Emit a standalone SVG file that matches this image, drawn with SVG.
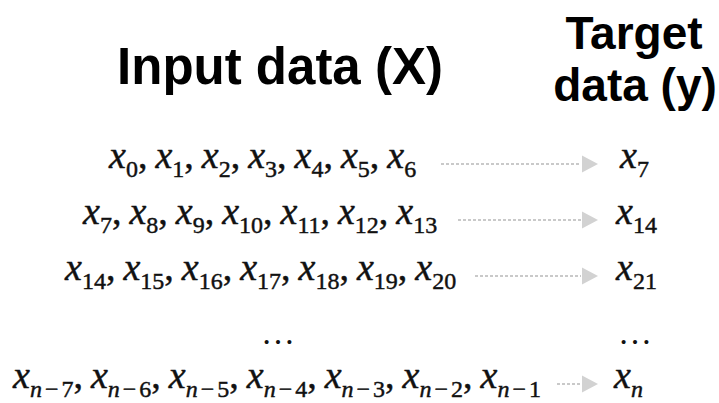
<svg xmlns="http://www.w3.org/2000/svg" width="719" height="403" viewBox="0 0 719 403">
<style>
.h{font-family:"Liberation Sans",Arial,sans-serif;font-weight:bold;fill:#000}
.eq{font-family:"Liberation Serif","Times New Roman",serif;font-size:38px;fill:#111;stroke:#111;stroke-width:0.45}
.i{font-style:italic}
.s{font-size:24px}
.dl{stroke:#c9c9c9;stroke-width:2;stroke-dasharray:3 2;fill:none}
.hd{fill:#d2d2d2}
.el{font-family:"Liberation Serif","Times New Roman",serif;font-size:34px;fill:#111}
</style>
<rect width="719" height="403" fill="#fff"/>
<g id="heading-input"><text class="h" x="280" y="84" font-size="51" text-anchor="middle">Input data (X)</text></g>
<g id="heading-target"><text class="h" x="634" y="49" font-size="46" text-anchor="middle">Target</text><text class="h" x="635" y="101" font-size="46" text-anchor="middle">data (y)</text></g>
<g id="input-row1"><text class="eq" x="109" y="168"><tspan class="i">x</tspan><tspan class="s" dy="9">0</tspan><tspan dy="-9">,</tspan><tspan class="i" dx="8">x</tspan><tspan class="s" dy="9">1</tspan><tspan dy="-9">,</tspan><tspan class="i" dx="8">x</tspan><tspan class="s" dy="9">2</tspan><tspan dy="-9">,</tspan><tspan class="i" dx="8">x</tspan><tspan class="s" dy="9">3</tspan><tspan dy="-9">,</tspan><tspan class="i" dx="8">x</tspan><tspan class="s" dy="9">4</tspan><tspan dy="-9">,</tspan><tspan class="i" dx="8">x</tspan><tspan class="s" dy="9">5</tspan><tspan dy="-9">,</tspan><tspan class="i" dx="8">x</tspan><tspan class="s" dy="9">6</tspan></text></g>
<g id="input-row2"><text class="eq" x="83" y="224"><tspan class="i">x</tspan><tspan class="s" dy="9">7</tspan><tspan dy="-9">,</tspan><tspan class="i" dx="8">x</tspan><tspan class="s" dy="9">8</tspan><tspan dy="-9">,</tspan><tspan class="i" dx="8">x</tspan><tspan class="s" dy="9">9</tspan><tspan dy="-9">,</tspan><tspan class="i" dx="8">x</tspan><tspan class="s" dy="9">10</tspan><tspan dy="-9">,</tspan><tspan class="i" dx="8">x</tspan><tspan class="s" dy="9">11</tspan><tspan dy="-9">,</tspan><tspan class="i" dx="8">x</tspan><tspan class="s" dy="9">12</tspan><tspan dy="-9">,</tspan><tspan class="i" dx="8">x</tspan><tspan class="s" dy="9">13</tspan></text></g>
<g id="input-row3"><text class="eq" x="65" y="280"><tspan class="i">x</tspan><tspan class="s" dy="9">14</tspan><tspan dy="-9">,</tspan><tspan class="i" dx="8">x</tspan><tspan class="s" dy="9">15</tspan><tspan dy="-9">,</tspan><tspan class="i" dx="8">x</tspan><tspan class="s" dy="9">16</tspan><tspan dy="-9">,</tspan><tspan class="i" dx="8">x</tspan><tspan class="s" dy="9">17</tspan><tspan dy="-9">,</tspan><tspan class="i" dx="8">x</tspan><tspan class="s" dy="9">18</tspan><tspan dy="-9">,</tspan><tspan class="i" dx="8">x</tspan><tspan class="s" dy="9">19</tspan><tspan dy="-9">,</tspan><tspan class="i" dx="8">x</tspan><tspan class="s" dy="9">20</tspan></text></g>
<g id="input-ellipsis"><text class="el" x="278" y="344" text-anchor="middle">…</text></g>
<g id="input-row4"><text class="eq" x="13" y="388"><tspan class="i">x</tspan><tspan class="s i" dy="9">n</tspan><tspan class="s" dx="3">−</tspan><tspan class="s" dx="3">7</tspan><tspan dy="-9">,</tspan><tspan class="i" dx="8">x</tspan><tspan class="s i" dy="9">n</tspan><tspan class="s" dx="3">−</tspan><tspan class="s" dx="3">6</tspan><tspan dy="-9">,</tspan><tspan class="i" dx="8">x</tspan><tspan class="s i" dy="9">n</tspan><tspan class="s" dx="3">−</tspan><tspan class="s" dx="3">5</tspan><tspan dy="-9">,</tspan><tspan class="i" dx="8">x</tspan><tspan class="s i" dy="9">n</tspan><tspan class="s" dx="3">−</tspan><tspan class="s" dx="3">4</tspan><tspan dy="-9">,</tspan><tspan class="i" dx="8">x</tspan><tspan class="s i" dy="9">n</tspan><tspan class="s" dx="3">−</tspan><tspan class="s" dx="3">3</tspan><tspan dy="-9">,</tspan><tspan class="i" dx="8">x</tspan><tspan class="s i" dy="9">n</tspan><tspan class="s" dx="3">−</tspan><tspan class="s" dx="3">2</tspan><tspan dy="-9">,</tspan><tspan class="i" dx="8">x</tspan><tspan class="s i" dy="9">n</tspan><tspan class="s" dx="3">−</tspan><tspan class="s" dx="3">1</tspan></text></g>
<g id="target-row1"><text class="eq" x="620" y="168"><tspan class="i">x</tspan><tspan class="s" dy="9">7</tspan></text></g>
<g id="target-row2"><text class="eq" x="616" y="224"><tspan class="i">x</tspan><tspan class="s" dy="9">14</tspan></text></g>
<g id="target-row3"><text class="eq" x="616" y="280"><tspan class="i">x</tspan><tspan class="s" dy="9">21</tspan></text></g>
<g id="target-ellipsis"><text class="el" x="635" y="344" text-anchor="middle">…</text></g>
<g id="target-row4"><text class="eq" x="614" y="388"><tspan class="i">x</tspan><tspan class="s i" dy="9">n</tspan></text></g>
<g id="connectors">
<line class="dl" x1="441" y1="164" x2="581" y2="164"/><polygon class="hd" points="582,155.5 598,164 582,172.5"/>
<line class="dl" x1="458" y1="220" x2="581" y2="220"/><polygon class="hd" points="582,211.5 598,220 582,228.5"/>
<line class="dl" x1="475" y1="276" x2="581" y2="276"/><polygon class="hd" points="582,267.5 598,276 582,284.5"/>
<line class="dl" x1="557" y1="384" x2="581" y2="384"/><polygon class="hd" points="582,375.5 598,384 582,392.5"/>
</g>
</svg>
